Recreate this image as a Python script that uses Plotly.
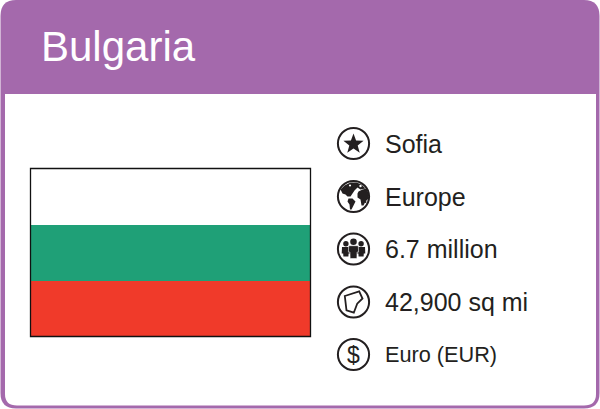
import math
import plotly.graph_objects as go

# flag stripes, bottom to top
stripe_names = ["Red", "Green", "White"]
stripe_colors = ["#F03A2A", "#1FA077", "#FFFFFF"]
stripe_sizes = [1, 1, 1]

title = "Bulgaria"
facts = ["Sofia", "Europe", "6.7 million", "42,900 sq mi", "Euro (EUR)"]
fact_sizes = [25, 25, 25, 25, 21.7]
fact_y = [143.5, 196.5, 249, 302, 354.5]

PURPLE = "#A469AC"
INK = "#231F20"
ICON_X = 353.5

fig = go.Figure()

for name, col, size in zip(stripe_names, stripe_colors, stripe_sizes):
    fig.add_trace(go.Bar(x=["flag"], y=[size], name=name, marker=dict(color=col, line_width=0),
                         width=1, xaxis="x2", yaxis="y2", showlegend=False, hoverinfo="name"))


def px_shape(kind, **kw):
    return dict(type=kind, xref="x", yref="y", **kw)


def ring(cy, r=15.6):
    return px_shape("circle", x0=ICON_X - r, x1=ICON_X + r, y0=cy - r, y1=cy + r,
                    line=dict(color=INK, width=2), fillcolor="white", layer="above")


def blob(pts, cx, cy, fill=INK, line=None, width=0):
    # pts are offsets from the icon centre
    d = "M " + " L ".join(f"{cx + a:.2f},{cy + b:.2f}" for a, b in pts) + " Z"
    return px_shape("path", path=d, fillcolor=fill, layer="above",
                    line=dict(color=line or fill, width=width))


def dot(cx, cy, r, fill=INK):
    return px_shape("circle", x0=cx - r, x1=cx + r, y0=cy - r, y1=cy + r, fillcolor=fill,
                    line=dict(width=0), layer="above")


shapes = [
    # card
    px_shape("path", path="M 0.5,16 Q 0.5,0 16,0 L 584,0 Q 599.5,0 599.5,16 L 599.5,393 Q 599.5,408.5 584,408.5 "
                          "L 16,408.5 Q 0.5,408.5 0.5,393 Z",
             fillcolor=PURPLE, line=dict(width=0), layer="below"),
    px_shape("path", path="M 5,94 L 596,94 L 596,394 Q 596,405.5 584,405.5 L 17,405.5 Q 5,405.5 5,394 Z",
             fillcolor="white", line=dict(width=0), layer="below"),
    # flag outline
    px_shape("rect", x0=30.5, x1=310.5, y0=168.5, y1=336.5, line=dict(color="#111111", width=1.3),
             fillcolor="rgba(0,0,0,0)", layer="above"),
]

for cy in fact_y:
    shapes.append(ring(cy))

# star
star = []
for i in range(10):
    r = 10.6 if i % 2 == 0 else 4.4
    ang = -math.pi / 2 + i * math.pi / 5
    star.append((r * math.cos(ang), r * math.sin(ang)))
shapes.append(blob(star, ICON_X, fact_y[0] + 0.6))

# globe
g = fact_y[1]
shapes.append(blob([(-13, -7), (-9, -11), (-3, -14), (3, -14), (8, -12), (12, -8), (7, -7), (4, -9), (1, -6),
                    (-1, -3), (-3, 0), (-6, 0), (-8, -2), (-11, -3)], ICON_X, g))
shapes.append(blob([(-5, 2), (-1, 2), (2, 5), (0, 9), (-2, 13), (-3.5, 13), (-4, 8), (-6, 5)], ICON_X, g))
shapes.append(blob([(5, -5), (9, -7), (13, -8), (15, -3), (15, 2), (12, 5), (10, 9), (8, 9), (7, 3), (4, 1),
                    (4, -3)], ICON_X, g))
shapes.append(dot(ICON_X - 3.5, g - 11, 1.1, fill="white"))
shapes.append(dot(ICON_X + 7, g - 10.5, 1.2, fill="white"))
shapes.append(dot(ICON_X + 12, g + 5.5, 1.0))

# people
p = fact_y[2]
for dx, top, r, half, bot in [(-7.6, -5.2, 2.7, 3.9, 7.6), (7.6, -5.2, 2.7, 3.9, 7.6), (0, -7.2, 3.3, 4.8, 9.6)]:
    shapes.append(dot(ICON_X + dx, p + top, r))
    shapes.append(blob([(dx - half, top + r + 0.6), (dx + half, top + r + 0.6), (dx + half + 0.3, top + r + 7),
                        (dx + half - 1.2, top + r + 7), (dx + half - 1.4, bot), (dx - half + 1.4, bot),
                        (dx - half + 1.2, top + r + 7), (dx - half - 0.3, top + r + 7)],
                       ICON_X, p, line="white" if dx == 0 else INK, width=0.6 if dx == 0 else 0))

# area outline
shapes.append(blob([(-8.7, -6), (5.7, -10.7), (9, -3.5), (3.7, 1.7), (0.3, 10.7), (-7, 8.3)],
                   ICON_X, fact_y[3], fill="white", line=INK, width=1.8))

annotations = [dict(text=title, xref="x", yref="y", x=39, y=46, xanchor="left", yanchor="middle", showarrow=False,
                    font=dict(family="Liberation Sans", size=42, color="white"))]
for label, size, y in zip(facts, fact_sizes, fact_y):
    annotations.append(dict(text=label, xref="x", yref="y", x=383, y=y, xanchor="left", yanchor="middle",
                            showarrow=False, font=dict(family="Liberation Sans", size=size, color=INK)))
annotations.append(dict(text="$", xref="x", yref="y", x=ICON_X, y=fact_y[4], xanchor="center", yanchor="middle",
                        showarrow=False, font=dict(family="Liberation Sans", size=23, color=INK)))

fig.update_layout(
    width=600, height=409,
    margin=dict(l=0, r=0, t=0, b=0),
    barmode="stack",
    paper_bgcolor="white",
    plot_bgcolor="rgba(0,0,0,0)",
    shapes=shapes,
    annotations=annotations,
    xaxis=dict(range=[0, 600], visible=False, domain=[0, 1], fixedrange=True),
    yaxis=dict(range=[409, 0], visible=False, domain=[0, 1], fixedrange=True),
    xaxis2=dict(visible=False, domain=[30.5 / 600, 310.5 / 600], anchor="y2", fixedrange=True),
    yaxis2=dict(visible=False, domain=[(409 - 336.5) / 409, (409 - 168.5) / 409], range=[0, 3], anchor="x2",
                fixedrange=True),
)

# the page's default body margin would push the card 8px off
fig.write_html("out.html", config=dict(displayModeBar=False),
               post_script="document.body.style.margin='0';document.body.style.overflow='hidden';")
